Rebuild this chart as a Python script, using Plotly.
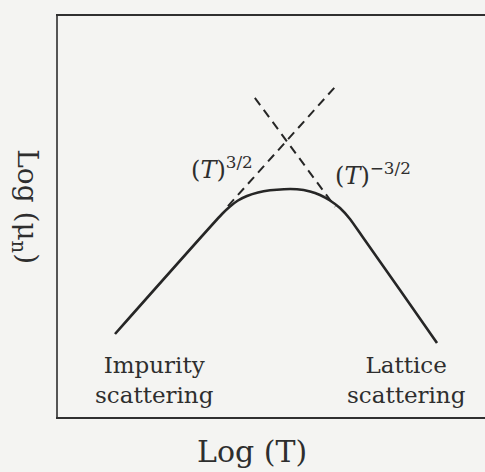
import plotly.graph_objects as go

# Mobility vs temperature (log-log sketch), arbitrary units
log_t_curve = [1.335, 3.841, 4.028, 4.215, 4.426, 4.684, 4.965, 5.293, 5.597,
               5.902, 6.136, 6.370, 6.604, 6.838, 7.119, 8.009, 8.876]
log_mu_curve = [2.070, 5.062, 5.249, 5.399, 5.511, 5.599, 5.653, 5.681, 5.678,
                5.623, 5.536, 5.399, 5.212, 4.938, 4.514, 3.167, 1.845]

# Asymptotes: impurity (T^{3/2}) and lattice (T^{-3/2}) scattering
impurity_x = [3.98, 6.53]
impurity_y = [5.26, 8.28]
lattice_x = [4.61, 6.49]
lattice_y = [7.96, 5.24]

ink = "#262626"
text_ink = "#2e2e2e"
serif = "DejaVu Serif"

fig = go.Figure()
fig.add_trace(go.Scatter(
    x=log_t_curve, y=log_mu_curve, mode="lines",
    line=dict(color=ink, width=2.6, shape="spline", smoothing=0.5),
    hoverinfo="skip",
))
fig.add_trace(go.Scatter(
    x=impurity_x, y=impurity_y, mode="lines",
    line=dict(color=ink, width=2, dash="9px,6px"),
    hoverinfo="skip",
))
fig.add_trace(go.Scatter(
    x=lattice_x, y=lattice_y, mode="lines",
    line=dict(color=ink, width=2, dash="9px,6px"),
    hoverinfo="skip",
))

annotations = [
    dict(x=3.84, y=6.2, xref="x", yref="y", text="(<i>T</i>)<sup>3/2</sup>",
         font=dict(family=serif, size=24, color=text_ink), showarrow=False),
    dict(x=7.38, y=6.05, xref="x", yref="y", text="(<i>T</i>)<sup>\u22123/2</sup>",
         font=dict(family=serif, size=24, color=text_ink), showarrow=False),
    dict(x=2.27, y=0.92, xref="x", yref="y", text="Impurity<br>scattering",
         font=dict(family=serif, size=23, color=text_ink), showarrow=False),
    dict(x=8.17, y=0.92, xref="x", yref="y", text="Lattice<br>scattering",
         font=dict(family=serif, size=23, color=text_ink), showarrow=False),
    dict(x=0.454, y=-0.087, xref="paper", yref="paper", text="Log (T)",
         xanchor="center", yanchor="middle",
         font=dict(family=serif, size=30, color=text_ink), showarrow=False),
    dict(x=-0.078, y=0.524, xref="paper", yref="paper", text="Log (\u03bc<sub>n</sub>)",
         textangle=90, xanchor="center", yanchor="middle",
         font=dict(family=serif, size=28, color=text_ink), showarrow=False),
]

fig.update_layout(
    width=485, height=472,
    margin=dict(l=58, r=0, t=16, b=55),
    paper_bgcolor="#f4f4f2",
    plot_bgcolor="#f4f4f2",
    showlegend=False,
    annotations=annotations,
    xaxis=dict(range=[0, 10], showgrid=False, zeroline=False, showticklabels=False,
               ticks="", showline=True, mirror=True, linecolor="#303030", linewidth=2.4),
    yaxis=dict(range=[0, 10], showgrid=False, zeroline=False, showticklabels=False,
               ticks="", showline=True, mirror=False, linecolor="#555555", linewidth=1.6),
)

fig.write_html("out.html")
